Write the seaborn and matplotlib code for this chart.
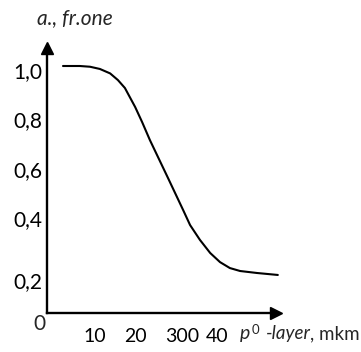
import numpy as np
import pandas as pd
import seaborn as sns
import matplotlib
matplotlib.use("Agg")
import matplotlib.pyplot as plt
from matplotlib.transforms import ScaledTranslation

# curve
thickness = [3.9, 8.0, 10.5, 12.9, 15.4, 17.3, 19.0, 20.2, 21.5, 23.2, 25.1,
             29.5, 33.2, 34.9, 37.3, 39.8, 42.2, 44.6, 47.1, 51.2, 56.3]
fraction = [1.0, 1.0, 0.997, 0.988, 0.970, 0.943, 0.911, 0.874, 0.834, 0.773,
            0.70, 0.547, 0.417, 0.356, 0.296, 0.243, 0.206, 0.182, 0.170,
            0.162, 0.154]

x_ticks = [10, 20, 30, 40, 50]
x_labels = ["10", "20", "300", "40", ""]
y_ticks = [0.2, 0.4, 0.6, 0.8, 1.0]
y_labels = ["0,2", "0,4", "0,6", "0,8", "1,0"]

sns.set_style("white")
plt.rcParams["font.family"] = ["Lato", "DejaVu Sans"]

DPI = 100
W, H = 361, 352
fig = plt.figure(figsize=(W / DPI, H / DPI), dpi=DPI)
ax = fig.add_axes([47 / W, 39 / H, 238 / W, 272 / H])

df = pd.DataFrame({"x": thickness, "y": fraction})
sns.lineplot(data=df, x="x", y="y", color="black", lw=1.5, sort=False,
             ax=ax, clip_on=False)

ax.set_xlim(0, 238 / 4.1)
ax.set_ylim(0, 272 / 247)
ax.set_xlabel("")
ax.set_ylabel("")

for s in ["top", "right"]:
    ax.spines[s].set_visible(False)
for s in ["left", "bottom"]:
    ax.spines[s].set_linewidth(1.7)
    ax.spines[s].set_color("black")
ax.spines["bottom"].set_bounds(0, 55.6)
ax.spines["left"].set_bounds(0, 1.07)

# arrow heads
ax.plot(55.9, 0, marker=">", color="black", markersize=9, clip_on=False)
ax.plot(0, 1.072, marker="^", color="black", markersize=9, clip_on=False)

ax.set_xticks(x_ticks, labels=x_labels)
ax.set_yticks(y_ticks, labels=y_labels)
ax.tick_params(axis="x", direction="in", length=8.6, width=1.4, pad=11,
               labelsize=14, colors="black")
ax.tick_params(axis="y", direction="in", length=6.5, width=1.4, pad=3.5,
               labelsize=15, colors="black")

for lab in ax.get_xticklabels():
    lab.set_ha("left")
    lab.set_transform(lab.get_transform() + ScaledTranslation(-5 / DPI, 0, fig.dpi_scale_trans))
for lab, v in zip(ax.get_yticklabels(), y_ticks):
    dy = -16 if v == 0.2 else -4
    lab.set_transform(lab.get_transform() + ScaledTranslation(0, dy / DPI, fig.dpi_scale_trans))

# origin label
fig.text(39 / W, 1 - 324 / H, "0", fontsize=15, ha="center", va="center")

# axis titles
fig.text(75 / W, 1 - 18 / H, "a., fr.one", fontsize=15, style="italic",
         ha="center", va="center")
t1 = fig.text(240 / W, 1 - 339 / H, "p", fontsize=14, style="italic",
              ha="left", va="baseline")
ax.annotate("0", xy=(1, 1), xycoords=t1, xytext=(1, 1), textcoords="offset points",
            fontsize=9.5, ha="left", va="top")
t2 = ax.annotate("-layer", xy=(1, 0), xycoords=t1, xytext=(11, 0),
                 textcoords="offset points", fontsize=13.5, style="italic",
                 ha="left", va="bottom")
ax.annotate(", mkm", xy=(1, 0), xycoords=t2, fontsize=13.5, ha="left", va="bottom")

fig.savefig("out.png", dpi=DPI)
